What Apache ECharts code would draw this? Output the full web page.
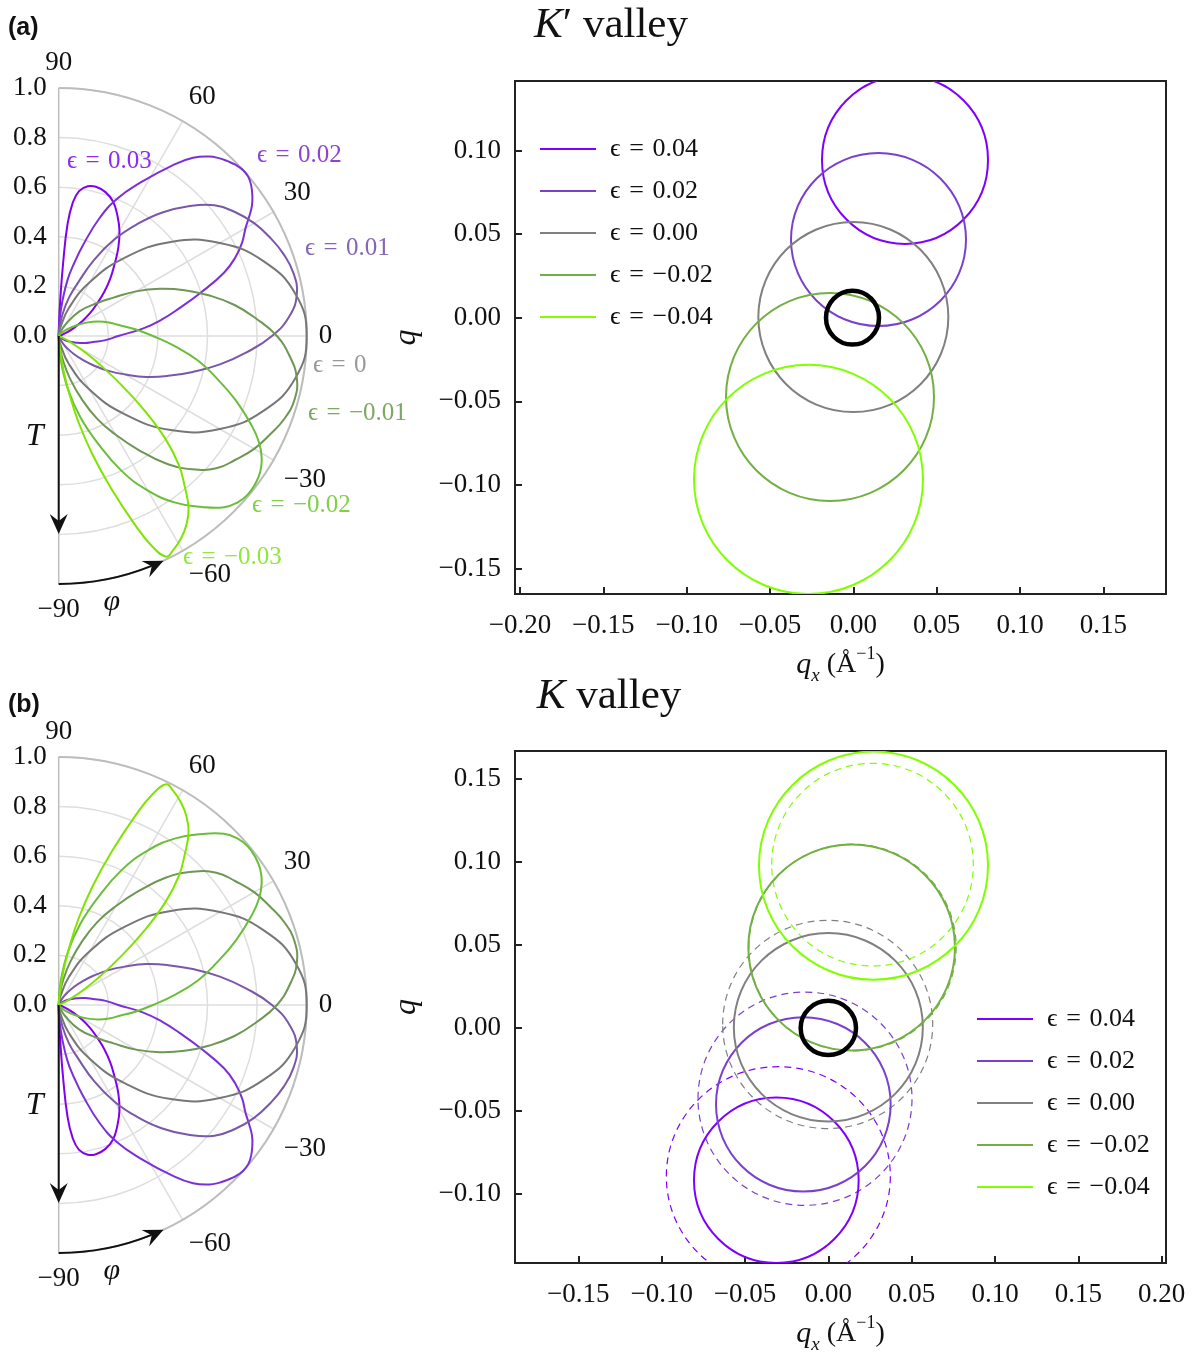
<!DOCTYPE html>
<html>
<head>
<meta charset="utf-8">
<title>K' and K valley transmission</title>
<script src="https://cdn.jsdelivr.net/npm/echarts@6.0.0/dist/echarts.min.js"></script>
<style>
  html, body { margin: 0; padding: 0; background: #fff; }
  #chart { width: 1197px; height: 1355px; }
</style>
</head>
<body>
<div id="chart"></div>
<script>
// ---- data -----------------------------------------------------------------
// transmission lobes of panel (a), K' valley: pairs are [phi (deg), T]
const lobeP03 = [[90,0],[88.5,0.05],[87.5,0.15],[86.5,0.3],[85.5,0.45],[84,0.54],[82,0.59],[79,0.615],[76,0.62],[72,0.61],[68,0.585],[64,0.54],[60,0.49],[56,0.43],[52,0.365],[48,0.31],[44,0.255],[40,0.2],[36,0.155],[32,0.11],[28,0.07],[24,0.04],[20,0.015],[15,0]];
const lobeP02 = [[90,0],[87,0.06],[84,0.14],[81,0.23],[78,0.3],[75,0.38],[71,0.5],[67,0.6],[62,0.7],[56,0.835],[53,0.9],[50,0.945],[48,0.965],[46,0.98],[44,0.993],[42,1.0],[40,0.998],[38,0.985],[36,0.965],[34,0.94],[32,0.905],[30,0.87],[27,0.83],[24,0.78],[21,0.715],[17,0.6],[13,0.5],[9,0.42],[5,0.34],[0,0.24],[-5,0.19],[-10,0.14],[-15,0.11],[-20,0.08],[-30,0.04],[-40,0.015],[-50,0]];
const lobeP01 = [[90,0],[85,0.03],[80,0.09],[75,0.16],[70,0.23],[65,0.34],[60,0.45],[55,0.55],[50,0.65],[45,0.74],[40,0.82],[35,0.87],[30,0.91],[25,0.94],[20,0.965],[15,0.98],[10,0.975],[5,0.935],[0,0.86],[-5,0.76],[-10,0.66],[-15,0.56],[-20,0.47],[-25,0.39],[-30,0.31],[-35,0.245],[-40,0.185],[-45,0.135],[-50,0.095],[-55,0.06],[-60,0.035],[-70,0.01],[-80,0]];
const lobe0 = [[90,0],[80,0.03],[70,0.12],[60,0.25],[50,0.41],[40,0.59],[30,0.75],[20,0.88],[10,0.97],[0,1],[-10,0.97],[-20,0.88],[-30,0.75],[-40,0.59],[-50,0.41],[-60,0.25],[-70,0.12],[-80,0.03],[-90,0]];
const lobeM01 = [[80,0],[70,0.01],[60,0.05],[50,0.13],[40,0.21],[35,0.27],[30,0.36],[25,0.45],[20,0.54],[15,0.63],[10,0.72],[5,0.8],[0,0.88],[-5,0.935],[-10,0.975],[-15,0.985],[-20,0.97],[-25,0.94],[-30,0.91],[-35,0.87],[-40,0.83],[-45,0.76],[-50,0.67],[-55,0.56],[-60,0.46],[-65,0.37],[-70,0.27],[-75,0.18],[-80,0.1],[-85,0.04],[-90,0]];
const lobeM02 = [[60,0],[50,0.01],[40,0.04],[30,0.09],[25,0.13],[20,0.17],[15,0.21],[10,0.25],[5,0.31],[0,0.38],[-5,0.47],[-10,0.57],[-15,0.66],[-20,0.76],[-25,0.86],[-28,0.915],[-31,0.955],[-34,0.98],[-37,0.992],[-40,0.995],[-43,0.985],[-46,0.96],[-50,0.9],[-55,0.82],[-60,0.72],[-65,0.6],[-70,0.46],[-75,0.34],[-80,0.22],[-85,0.1],[-90,0]];
const lobeM03 = [[-15,0],[-20,0.005],[-24,0.02],[-28,0.06],[-32,0.13],[-35,0.21],[-38,0.32],[-41,0.46],[-44,0.6],[-47,0.71],[-50,0.79],[-53,0.87],[-56,0.92],[-59,0.955],[-62,0.98],[-64,0.99],[-66,0.93],[-68,0.82],[-71,0.65],[-74,0.5],[-77,0.36],[-80,0.22],[-82,0.14],[-85,0.05],[-90,0]];
// panel (b), K valley, shows the same lobes mirrored in phi
const lobeStrains = ['0.03', '0.02', '0.01', '0', '−0.01', '−0.02', '−0.03'];

// contours: [qx centre, q centre, radius along qx, radius along q]
const legendNames = ['ϵ\u2004=\u20040.04', 'ϵ\u2004=\u20040.02', 'ϵ\u2004=\u20040.00', 'ϵ\u2004=\u2004−0.02', 'ϵ\u2004=\u2004−0.04'];
const kpCircles = [[0.031,0.0943,0.0498,0.0502],[0.0151,0.0467,0.0525,0.0517],[0.0,0.0004,0.057,0.0568],[-0.014,-0.0474,0.0624,0.0622],[-0.0269,-0.0967,0.0687,0.0685]];
const kCircles = [[-0.0312,-0.0917,0.0494,0.0498],[-0.015,-0.046,0.0524,0.0525],[0,0.0004,0.0567,0.0567],[0.014,0.0484,0.062,0.062],[0.0271,0.0977,0.0687,0.0687]];
const kDashed = [[-0.030,-0.0893,0.0672,0.066],[-0.014,-0.0426,0.0642,0.0642],[-0.0004,0.0021,0.063,0.0627],[0.0145,0.0484,0.0622,0.0622],[0.0265,0.0983,0.0605,0.061]];
const kpRing = [-0.0005, 0, 0.0159, 0.0161];
const kRing = [0, 0, 0.0166, 0.0163];

// tick labels
const kpXTicks = [-0.2, -0.15, -0.1, -0.05, 0, 0.05, 0.1, 0.15];
const kpYTicks = [-0.15, -0.1, -0.05, 0, 0.05, 0.1];
const kXTicks = [-0.15, -0.1, -0.05, 0, 0.05, 0.1, 0.15, 0.2];
const kYTicks = [-0.1, -0.05, 0, 0.05, 0.1, 0.15];

// ---- styles ---------------------------------------------------------------
const SERIF = "'Liberation Serif', 'DejaVu Serif', serif";
const SANS = "'Liberation Sans', Arial, sans-serif";
const lobeColors = ['#8000f0', '#7a30d8', '#7a58a8', '#777777', '#6e9655', '#6cbd3a', '#80e400'];
const lobeLabelColors = ['#8f2bf0', '#8d45cf', '#8467b2', '#999999', '#7fa763', '#82cf4a', '#8fe83a'];
const lobeLabelPos = [[67,161],[257,155],[305,248],[313,365],[308,413],[252,505],[183,557]];
const circleColors = ['#8000ff', '#7a40cc', '#808080', '#72b043', '#80ff00'];
const OA = [58.7, 336], OB = [58.7, 1005], R = 248;

const minus = v => (v < -1e-9 ? '−' : '');
const fmt2 = v => minus(v) + Math.abs(v).toFixed(2);
const fmtDeg = v => minus(v) + Math.abs(Math.round(v));

// one ellipse per data item, sized through the cartesian scales
function ellipseRender(color, width, dash) {
  return function (params, api) {
    const c = api.coord([api.value(0), api.value(1)]);
    const s = api.size([api.value(2), api.value(3)]);
    return {
      type: 'ellipse',
      shape: { cx: c[0], cy: c[1], rx: s[0], ry: s[1] },
      style: { fill: 'none', stroke: color, lineWidth: width, lineDash: dash || null }
    };
  };
}
// whole lobe as one smooth polyline, points placed by the polar scales
function lobeRender(color) {
  return function (params, api) {
    if (params.dataIndexInside !== 0) return null;
    const pts = [];
    for (let i = 0; i < params.dataInsideLength; i++) {
      pts.push(api.coord([api.value(0, i), api.value(1, i)]));
    }
    return {
      type: 'polyline',
      shape: { points: pts, smooth: 0.45 },
      style: { fill: 'none', stroke: color, lineWidth: 2 }
    };
  };
}

function angleAxis(idx) {
  return {
    polarIndex: idx, type: 'value', min: -90, max: 90, interval: 30,
    startAngle: -90, endAngle: 90, clockwise: false,
    axisLine: { show: true, lineStyle: { color: '#bdbdbd', width: 2 } },
    axisTick: { show: false },
    splitLine: { show: true, lineStyle: { color: ['#bdbdbd', '#dedede', '#dedede', '#dedede', '#dedede', '#dedede', '#bdbdbd'], width: 1.5 } },
    axisLabel: { margin: 12, color: '#111', fontFamily: SERIF, fontSize: 27, formatter: fmtDeg }
  };
}
function radiusAxis(idx) {
  return {
    polarIndex: idx, type: 'value', min: 0, max: 1, interval: 0.2,
    axisLine: { show: false }, axisTick: { show: false }, axisLabel: { show: false },
    splitLine: { show: true, lineStyle: { color: '#dedede', width: 1.5 } }
  };
}

const xName = '{i|q}{sub|x}{n| (Å}{sup|−1}{n|)}';
const nameRich = {
  i: { fontFamily: SERIF, fontStyle: 'italic', fontSize: 30, lineHeight: 40, verticalAlign: 'middle', color: '#111' },
  sub: { fontFamily: SERIF, fontStyle: 'italic', fontSize: 19, lineHeight: 19, verticalAlign: 'bottom', color: '#111' },
  n: { fontFamily: SERIF, fontSize: 28, lineHeight: 40, verticalAlign: 'middle', color: '#111' },
  sup: { fontFamily: SERIF, fontSize: 18, lineHeight: 26, verticalAlign: 'top', color: '#111' }
};

function xAxisFor(grid, min, max, ticks) {
  return {
    gridIndex: grid, type: 'value', min: min, max: max,
    name: xName, nameLocation: 'middle', nameGap: 51, nameTextStyle: { rich: nameRich },
    axisLine: { show: true, onZero: false, lineStyle: { color: '#222', width: 2 } },
    axisTick: { show: true, customValues: ticks, inside: true, length: 7, lineStyle: { color: '#222', width: 2 } },
    axisLabel: { customValues: ticks, margin: 18, color: '#111', fontFamily: SERIF, fontSize: 27, formatter: fmt2 },
    splitLine: { show: false }
  };
}
function yAxisFor(grid, min, max, ticks) {
  return {
    gridIndex: grid, type: 'value', min: min, max: max,
    name: 'q', nameLocation: 'middle', nameGap: 92, nameRotate: 90,
    nameTextStyle: { fontFamily: SERIF, fontStyle: 'italic', fontSize: 32, color: '#111' },
    axisLine: { show: true, onZero: false, lineStyle: { color: '#222', width: 2 } },
    axisTick: { show: true, customValues: ticks, inside: true, length: 7, lineStyle: { color: '#222', width: 2 } },
    axisLabel: { customValues: ticks, margin: 14, color: '#111', fontFamily: SERIF, fontSize: 27, formatter: fmt2 },
    splitLine: { show: false }
  };
}
function radialLabelAxis(grid) {
  return {
    gridIndex: grid, type: 'value', min: 0, max: 1, interval: 0.2,
    axisLine: { show: false }, axisTick: { show: false }, splitLine: { show: false },
    axisLabel: { margin: 12, color: '#111', fontFamily: SERIF, fontSize: 27, formatter: v => v.toFixed(1) }
  };
}

// ---- series ---------------------------------------------------------------
const series = [];
[lobeP03, lobeP02, lobeP01, lobe0, lobeM01, lobeM02, lobeM03].forEach((lobe, i) => {
  const base = { type: 'custom', coordinateSystem: 'polar', silent: true, clip: false, z: 3,
    itemStyle: { color: lobeColors[i] }, renderItem: lobeRender(lobeColors[i]) };
  series.push(Object.assign({}, base, { name: 'K′ ϵ=' + lobeStrains[i], polarIndex: 0, data: lobe.map(p => [p[1], p[0]]) }));
  series.push(Object.assign({}, base, { name: 'K ϵ=' + lobeStrains[i], polarIndex: 1, data: lobe.map(p => [p[1], -p[0]]) }));
});

function circleSeries(name, grid, item, color, width, dash) {
  return {
    type: 'custom', name: name, xAxisIndex: grid, yAxisIndex: grid, clip: true, silent: true,
    itemStyle: { color: color }, renderItem: ellipseRender(color, width, dash), data: [item], z: 4
  };
}
kpCircles.forEach((c, i) => series.push(circleSeries(legendNames[i], 0, c, circleColors[i], 2)));
kDashed.forEach((c, i) => series.push(circleSeries('dashed ' + legendNames[i], 1, c, circleColors[i], 1.2, [7, 5])));
kCircles.forEach((c, i) => series.push(circleSeries(legendNames[i], 1, c, circleColors[i], 2)));
series.push(circleSeries('ring K′', 0, kpRing, '#000', 4.5));
series.push(circleSeries('ring K', 1, kRing, '#000', 4.5));

// ---- annotations ----------------------------------------------------------
function arrowHead(x, y, rot) {
  return { type: 'polygon', x: x, y: y, rotation: rot, silent: true, z: 10,
    shape: { points: [[0, 0], [-20, -9], [-13, 0], [-20, 9]] }, style: { fill: '#111' } };
}
function polarDecor(O) {
  const tipA = 65 * Math.PI / 180;
  return [
    { type: 'line', silent: true, z: 9, shape: { x1: O[0], y1: O[1], x2: O[0], y2: O[1] + 186 }, style: { stroke: '#111', lineWidth: 2 } },
    arrowHead(O[0], O[1] + 198, -Math.PI / 2),
    { type: 'arc', silent: true, z: 9, shape: { cx: O[0], cy: O[1], r: R, startAngle: 68 * Math.PI / 180, endAngle: Math.PI / 2, clockwise: true },
      style: { stroke: '#111', lineWidth: 2, fill: 'none' } },
    arrowHead(O[0] + R * Math.cos(tipA), O[1] + R * Math.sin(tipA), Math.PI / 2 - tipA),
    { type: 'text', x: O[0] - 24, y: O[1] + 101, silent: true, z: 10,
      style: { text: 'T', fill: '#111', fontFamily: SERIF, fontStyle: 'italic', fontSize: 32, align: 'center', verticalAlign: 'middle', textAlign: 'center', textVerticalAlign: 'middle' } },
    { type: 'text', x: O[0] + 53, y: O[1] + 266, silent: true, z: 10,
      style: { text: 'φ', fill: '#111', fontFamily: SERIF, fontStyle: 'italic', fontSize: 30, align: 'center', verticalAlign: 'middle', textAlign: 'center', textVerticalAlign: 'middle' } }
  ];
}
function textAt(x, y, text, opts) {
  return { type: 'text', x: x, y: y, silent: true, z: 10,
    style: Object.assign({ text: text, fill: '#111', fontFamily: SERIF, fontSize: 25, align: 'left', verticalAlign: 'middle', textAlign: 'left', textVerticalAlign: 'middle' }, opts || {}) };
}
const titleRich = {
  k: { fontFamily: SERIF, fontStyle: 'italic', fontSize: 43, fill: '#111', color: '#111' },
  p: { fontFamily: SERIF, fontSize: 43, fill: '#111', color: '#111' }
};
const graphics = [].concat(
  polarDecor(OA), polarDecor(OB),
  lobeStrains.map((s, i) => textAt(lobeLabelPos[i][0], lobeLabelPos[i][1], 'ϵ\u2004=\u2004' + s, { fill: lobeLabelColors[i] })),
  [
    textAt(8, 28, '(a)', { fontFamily: SANS, fontWeight: 'bold', fontSize: 25 }),
    textAt(8, 705, '(b)', { fontFamily: SANS, fontWeight: 'bold', fontSize: 25 }),
    textAt(611, 26, '{k|K}{p|′ valley}', { align: 'center', textAlign: 'center', rich: titleRich }),
    textAt(609, 697, '{k|K}{p| valley}', { align: 'center', textAlign: 'center', rich: titleRich })
  ]
);

const legendBase = {
  data: legendNames, orient: 'vertical', icon: 'rect', itemWidth: 56, itemHeight: 2, itemGap: 16, padding: 0,
  selectedMode: false, textStyle: { fontFamily: SERIF, fontSize: 26, lineHeight: 26, color: '#111', padding: [0, 0, 0, 9] }
};

const option = {
  animation: false,
  backgroundColor: '#fff',
  polar: [{ center: OA, radius: R }, { center: OB, radius: R }],
  angleAxis: [angleAxis(0), angleAxis(1)],
  radiusAxis: [radiusAxis(0), radiusAxis(1)],
  grid: [
    { left: 515, top: 81, width: 651, height: 513, show: true, borderColor: '#222', borderWidth: 2, backgroundColor: 'transparent' },
    { left: 515, top: 751, width: 651, height: 514, show: true, borderColor: '#222', borderWidth: 2, backgroundColor: 'transparent' },
    { left: OA[0], top: OA[1] - R, width: 10, height: R },
    { left: OB[0], top: OB[1] - R, width: 10, height: R }
  ],
  xAxis: [
    xAxisFor(0, -0.203, 0.1876, kpXTicks),
    xAxisFor(1, -0.188, 0.2026, kXTicks),
    { gridIndex: 2, type: 'value', show: false, min: 0, max: 1 },
    { gridIndex: 3, type: 'value', show: false, min: 0, max: 1 }
  ],
  yAxis: [
    yAxisFor(0, -0.1652, 0.1415, kpYTicks),
    yAxisFor(1, -0.1415, 0.1667, kYTicks),
    radialLabelAxis(2),
    radialLabelAxis(3)
  ],
  legend: [
    Object.assign({}, legendBase, { left: 540, top: 136 }),
    Object.assign({}, legendBase, { left: 977, top: 1006 })
  ],
  series: series,
  graphic: { elements: graphics }
};

const chart = echarts.init(document.getElementById('chart'));
chart.setOption(option);
window.onresize = function () { chart.resize(); };
</script>
</body>
</html>
